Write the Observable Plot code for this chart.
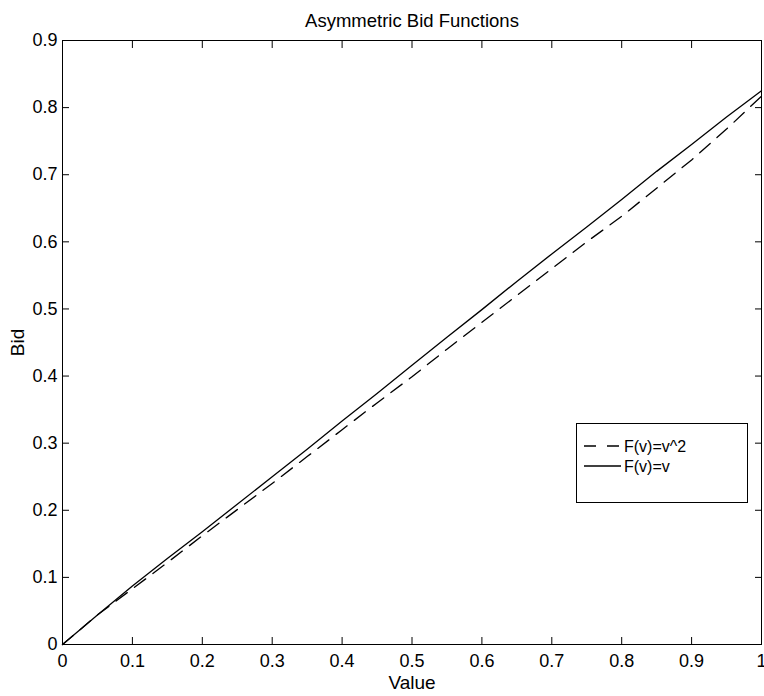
<!DOCTYPE html>
<html>
<head>
<meta charset="utf-8">
<script src="https://cdn.jsdelivr.net/npm/d3@7"></script>
<script src="https://cdn.jsdelivr.net/npm/@observablehq/plot@0.6"></script>
<style>
  html, body { margin: 0; padding: 0; background: #fff; }
  #chart { position: relative; width: 764px; height: 696px; font-family: "Liberation Sans", Arial, Helvetica, sans-serif; }
  #legend {
    position: absolute; left: 576px; top: 423px; width: 172px; height: 80px;
    border: 1px solid #000; background: #fff; box-sizing: border-box;
  }
</style>
</head>
<body>
<div id="chart"></div>
<script>
// Equilibrium bid as a function of bidder value, for two value distributions
const values     = [0, 0.05, 0.1, 0.15, 0.2, 0.25, 0.3, 0.35, 0.4, 0.45, 0.5, 0.55, 0.6, 0.65, 0.7, 0.75, 0.8, 0.85, 0.9, 0.95, 1.0];
const bidsLinear = [0, 0.044, 0.087, 0.128, 0.168, 0.209, 0.250, 0.291, 0.333, 0.374, 0.416, 0.458, 0.499, 0.541, 0.582, 0.622, 0.663, 0.705, 0.745, 0.786, 0.825];
const bidsSquare = [0, 0.044, 0.083, 0.122, 0.162, 0.201, 0.240, 0.280, 0.320, 0.360, 0.399, 0.440, 0.480, 0.520, 0.560, 0.600, 0.638, 0.680, 0.722, 0.768, 0.817];
const seriesNames = ["F(v)=v^2", "F(v)=v"];
const xTicks = [0, 0.1, 0.2, 0.3, 0.4, 0.5, 0.6, 0.7, 0.8, 0.9, 1];
const yTicks = [0, 0.1, 0.2, 0.3, 0.4, 0.5, 0.6, 0.7, 0.8, 0.9];
const titleText = "Asymmetric Bid Functions";

const squareRows = values.map((v, i) => ({v, bid: bidsSquare[i]}));
const linearRows = values.map((v, i) => ({v, bid: bidsLinear[i]}));
const fmt = d => String(+d.toFixed(1));
const blank = () => "";

const plot = Plot.plot({
  width: 764,
  height: 696,
  marginLeft: 62,
  marginRight: 3,
  marginTop: 40,
  marginBottom: 52,
  style: {fontFamily: "'Liberation Sans', Arial, Helvetica, sans-serif", background: "#fff", color: "#000"},
  x: {domain: [0, 1], ticks: xTicks},
  y: {domain: [0, 0.9], ticks: yTicks},
  marks: [
    Plot.frame({stroke: "#000", strokeWidth: 1}),
    // inward ticks on all four sides
    Plot.axisX({anchor: "bottom", ticks: xTicks, tickSize: -7, tickFormat: blank, label: null}),
    Plot.axisX({anchor: "top", ticks: xTicks, tickSize: -7, tickFormat: blank, label: null}),
    Plot.axisY({anchor: "left", ticks: yTicks, tickSize: -7, tickFormat: blank, label: null}),
    Plot.axisY({anchor: "right", ticks: yTicks, tickSize: -7, tickFormat: blank, label: null}),
    // tick labels and axis titles
    Plot.axisX({anchor: "bottom", ticks: xTicks, tickSize: 0, tickPadding: 10, tickFormat: fmt, fontSize: 18,
                label: "Value", labelAnchor: "center", labelArrow: "none", labelOffset: 44}),
    Plot.axisY({anchor: "left", ticks: yTicks, tickSize: 0, tickPadding: 5, tickFormat: fmt, fontSize: 18,
                label: "Bid", labelAnchor: "center", labelArrow: "none", labelOffset: 52}),
    Plot.line(squareRows, {x: "v", y: "bid", stroke: "#000", strokeWidth: 1.3, strokeDasharray: "14,9"}),
    Plot.line(linearRows, {x: "v", y: "bid", stroke: "#000", strokeWidth: 1.3}),
    Plot.text([titleText], {frameAnchor: "top", lineAnchor: "middle", dy: -19, fontSize: 18.5, fill: "#000"})
  ]
});

// axis titles a touch larger than the default
d3.select(plot).selectAll("[aria-label='x-axis label'] text, [aria-label='y-axis label'] text").attr("font-size", 19);

const chart = document.getElementById("chart");
chart.appendChild(plot);

// legend box inside the plot area
const legend = document.createElement("div");
legend.id = "legend";
const styles = ["12,11", null];
const lg = d3.select(legend).append("svg").attr("width", 172).attr("height", 80);
seriesNames.forEach((name, i) => {
  const y = 22 + i * 20;
  lg.append("line").attr("x1", 7).attr("x2", 44).attr("y1", y).attr("y2", y)
    .attr("stroke", "#000").attr("stroke-width", 1.3)
    .attr("stroke-dasharray", styles[i]);
  lg.append("text").attr("x", 47).attr("y", y).attr("dy", "0.35em")
    .attr("font-size", 16).attr("font-family", "'Liberation Sans', Arial, sans-serif")
    .text(name);
});
chart.appendChild(legend);
</script>
</body>
</html>
